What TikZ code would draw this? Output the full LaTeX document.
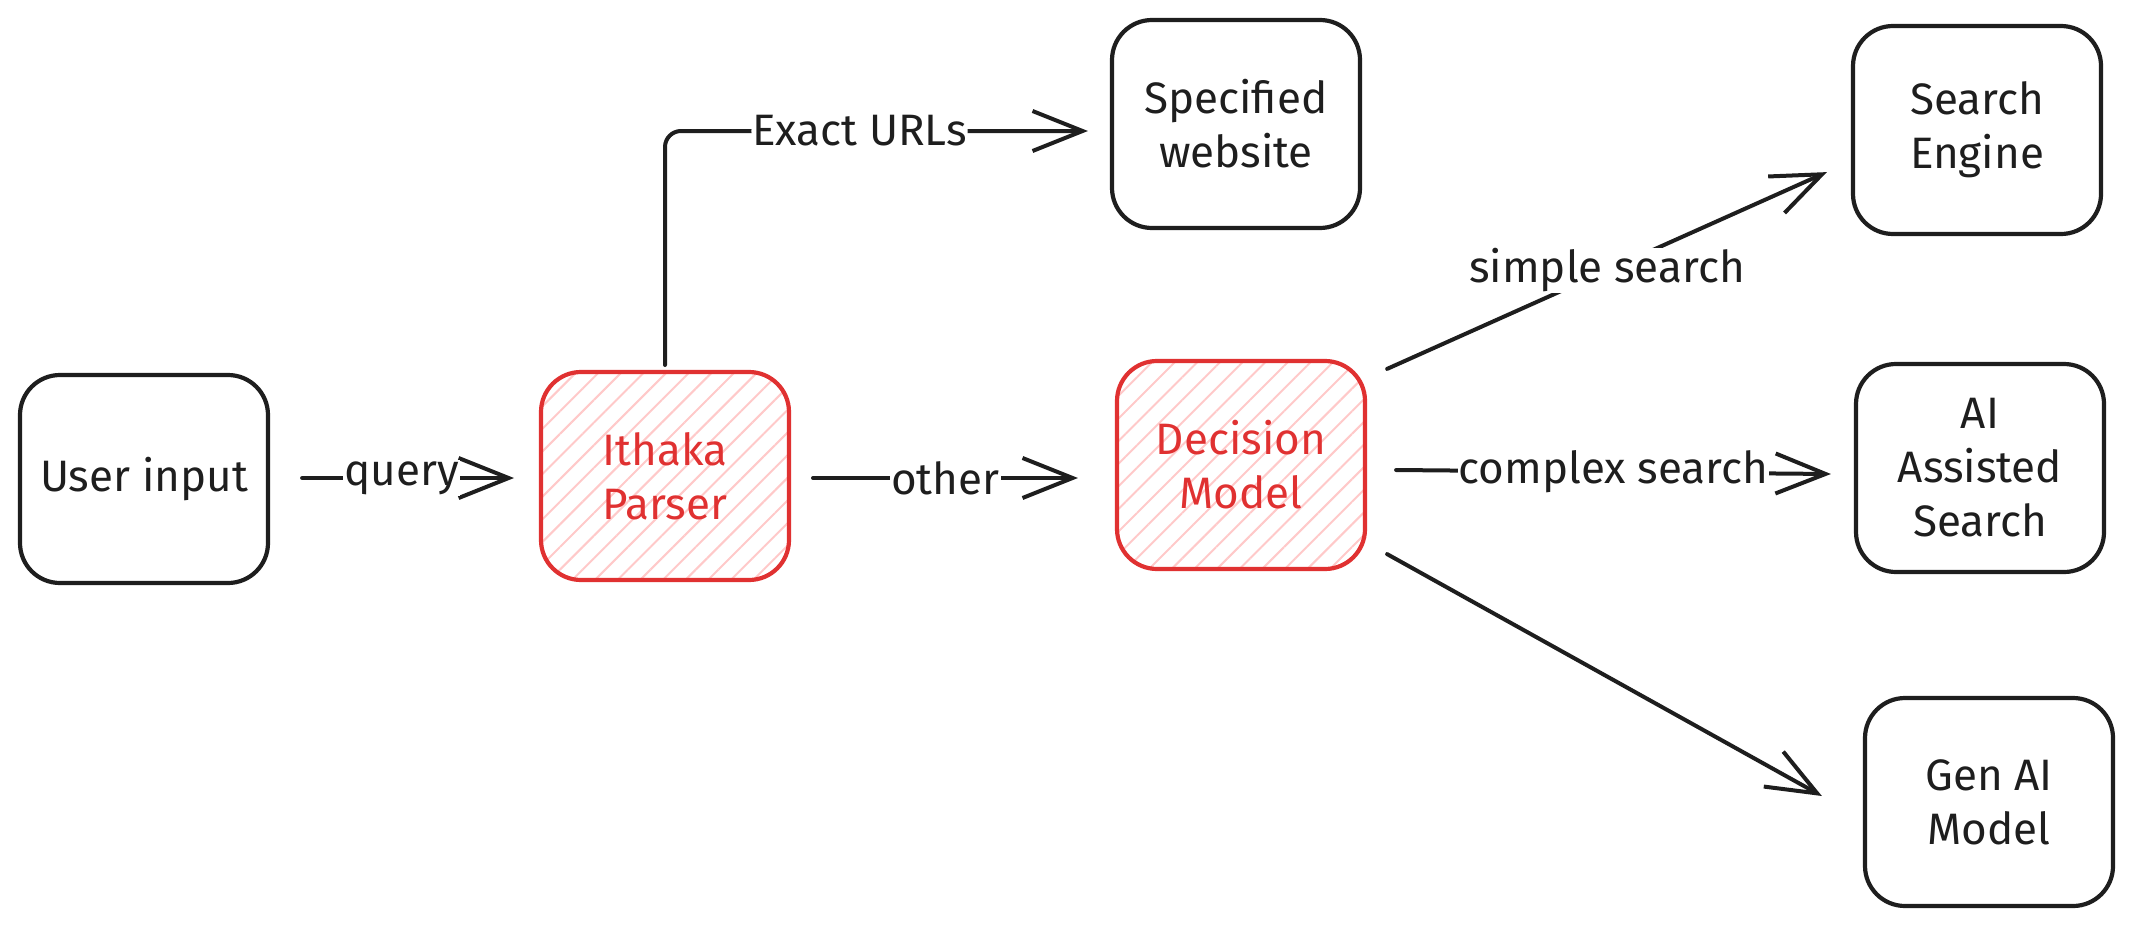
\documentclass[tikz,border=0pt]{standalone}
\usepackage{fontspec}
\setmainfont{Fira Sans}
\usetikzlibrary{arrows.meta,patterns.meta,calc}
\definecolor{ink}{HTML}{1E1E1E}
\definecolor{redline}{HTML}{E03131}
\definecolor{hatch}{HTML}{FFC9C9}
\begin{document}
\begin{tikzpicture}[x=0.5pt,y=-0.5pt,
  box/.style={draw=ink,line width=2.1pt,rounded corners=20pt,minimum width=124pt,minimum height=104pt,align=center,font=\fontsize{22}{27}\selectfont,text=ink},
  redbox/.style={box,draw=redline,text=redline,pattern={Lines[angle=45,distance=8pt,line width=1pt]},pattern color=hatch},
  arr/.style={draw=ink,line width=2pt,line cap=round,-{Straight Barb[length=25pt,width=20pt]}},
  lbl/.style={fill=white,inner sep=0.5pt,text=ink,font=\fontsize{22}{27}\selectfont}]
\useasboundingbox (0,0) rectangle (2136,926);

\node[box] (ui) at (144,479) {User input};
\node[redbox] (ip) at (665,476) {Ithaka\\Parser};
\node[redbox] (dm) at (1241,465) {Decision\\Model};
\node[box] (sw) at (1236,124) {Specified\\website};
\node[box] (se) at (1977,130) {Search\\Engine};
\node[box] (ai) at (1980,468) {AI\\Assisted\\Search};
\node[box] (ga) at (1989,802) {Gen AI\\Model};

\draw[arr] ($(ui.east)+(32,-1)$) -- node[lbl,pos=0.47]{query} ($(ip.west)+(-26,2)$);
\draw[arr] ($(ip.east)+(23,2)$) -- node[lbl]{other} ($(dm.west)+(-37,13)$);
\draw[arr,rounded corners=8pt] ($(ip.north)+(0,-6)$) |- node[lbl,pos=0.73]{Exact URLs} ($(sw.west)+(-22,7)$);
\draw[arr] ($(dm.north east)+(20,10)$) -- node[lbl]{simple search} ($(se.south west)+(-24,-64)$);
\draw[arr] ($(dm.east)+(29,5)$) -- node[lbl]{complex search} ($(ai.west)+(-23,6)$);
\draw[arr] ($(dm.south east)+(20,-17)$) -- ($(ga.west)+(-41,-6)$);
\end{tikzpicture}
\end{document}
